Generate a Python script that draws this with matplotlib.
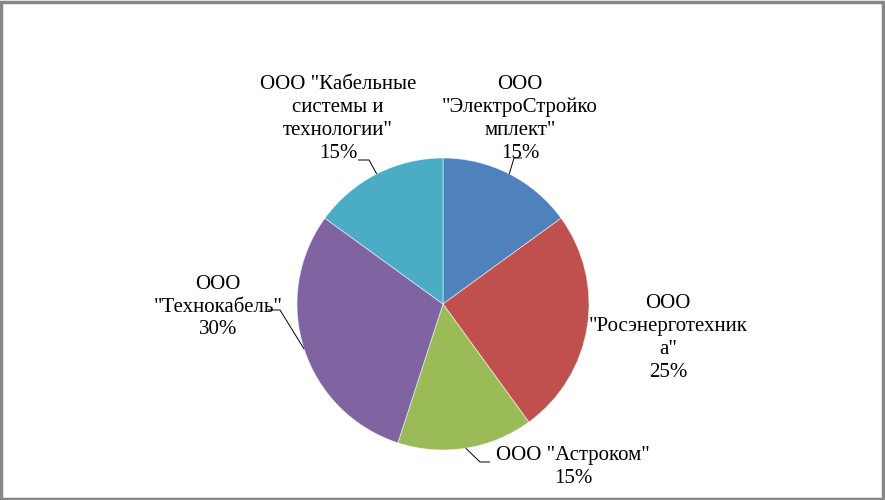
import matplotlib.pyplot as plt
import numpy as np

# data
labels = ['ООО\n"ЭлектроСтройко\nмплект"\n15%',
          'ООО\n"Росэнерготехник\nа"\n25%',
          'ООО "Астроком"\n15%',
          'ООО\n"Технокабель"\n30%',
          'ООО "Кабельные\nсистемы и\nтехнологии"\n15%']
shares = [15, 25, 15, 30, 15]
colors = ['#4F81BD', '#C0504D', '#9BBB59', '#8064A2', '#4BACC6']

# label centres (pixels, y from top) and leader elbow points (None = no leader)
label_pos = [(520, 119), (668, 338), (573, 467), (218, 307), (338, 119)]
leader_end = [(514, 158), None, (480, 462), (280, 310), (369, 160)]
leader_knee = [(522, 158), None, (490, 462), (268, 310), (358, 160)]

W, H = 885, 500
cx, cy, r = 443, 304, 146

fig = plt.figure(figsize=(W / 100, H / 100), dpi=100)
ax = fig.add_axes([0, 0, 1, 1])
ax.set_xlim(0, W)
ax.set_ylim(0, H)
ax.axis('off')

wedges, _ = ax.pie(shares, colors=colors, startangle=90, counterclock=False,
                   center=(cx, H - cy), radius=r,
                   wedgeprops=dict(edgecolor=(1, 1, 1, 0.6), linewidth=0.6))
ax.set_xlim(0, W)
ax.set_ylim(0, H)

for i, w in enumerate(wedges):
    tx, ty = label_pos[i]
    ax.text(tx, H - ty, labels[i], ha='center', va='center', fontsize=15,
            linespacing=1.28, family='Liberation Serif')
    if leader_end[i] is not None:
        ang = np.deg2rad((w.theta1 + w.theta2) / 2)
        px = cx + r * np.cos(ang)
        py = (H - cy) + r * np.sin(ang)
        ex, ey = leader_end[i]
        kx, ky = leader_knee[i]
        ax.plot([px, ex, kx], [py, H - ey, H - ky], color='black', lw=0.7,
                solid_capstyle='butt')

# chart border
ax.add_patch(plt.Rectangle((1, 1), W - 3, H - 3, fill=False, edgecolor='#878787',
                           lw=2.5))

fig.savefig('out.png', dpi=100)
